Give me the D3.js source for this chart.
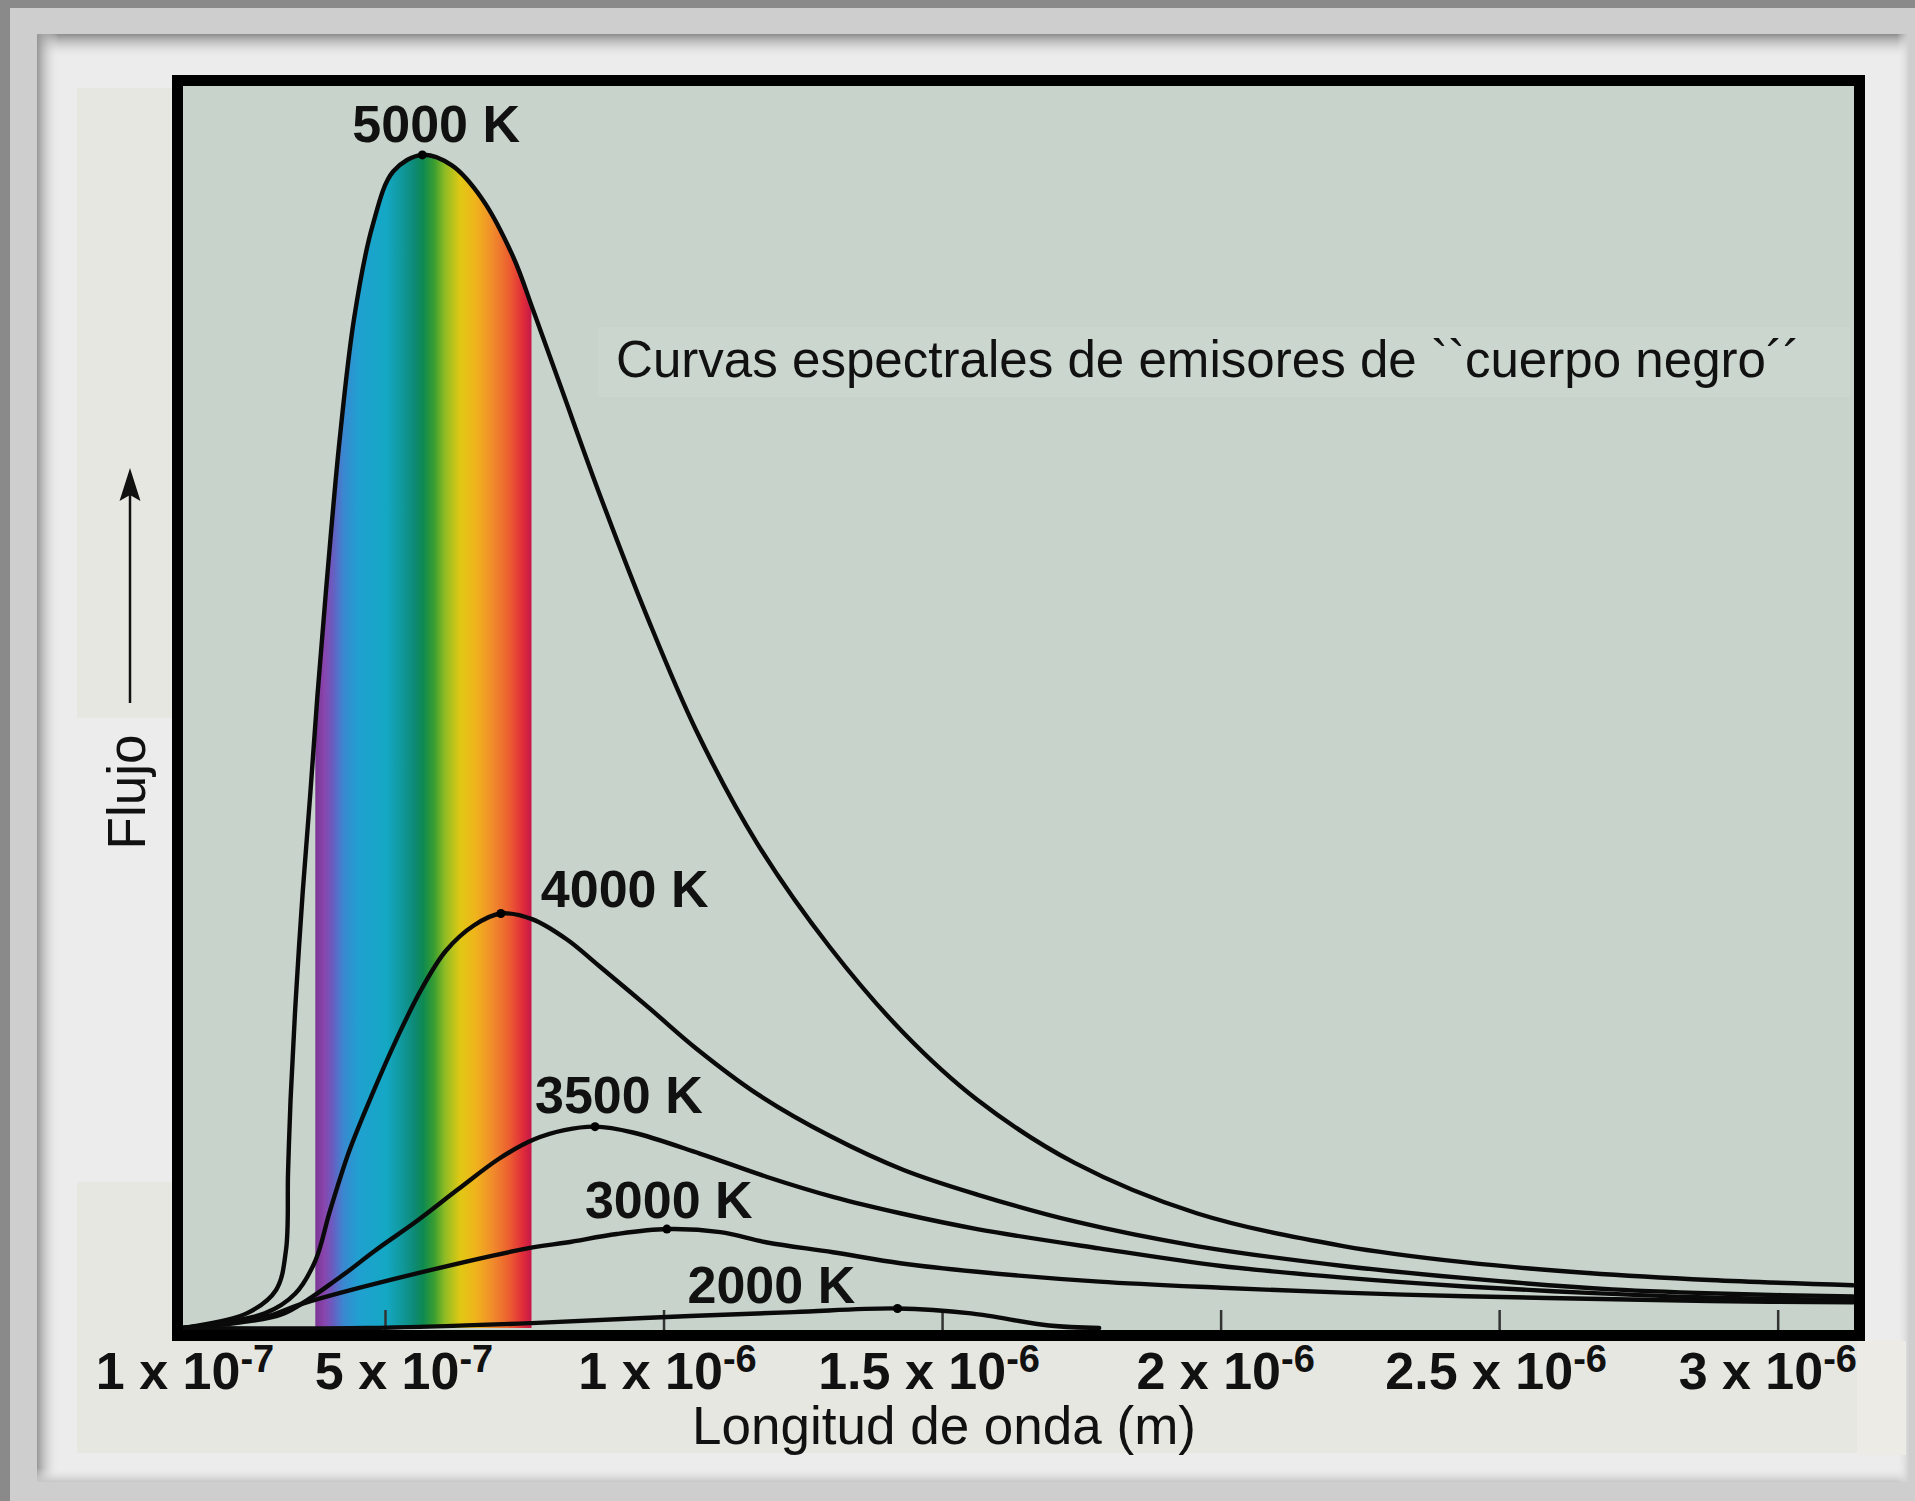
<!DOCTYPE html>
<html><head><meta charset="utf-8">
<script src="https://cdn.jsdelivr.net/npm/d3@7"></script>
<style>html,body{margin:0;padding:0;background:#cecece;overflow:hidden}</style>
</head><body>
<script>
// ---------------- DATA ----------------
const temperatures = [5000, 4000, 3500, 3000, 2000];
const curveLabels = ["5000 K", "4000 K", "3500 K", "3000 K", "2000 K"];

// wavelength in micrometres, flux in relative units (5000 K peak ~ 100)
const wl5000 = [0.100,0.226,0.284,0.304,0.308,0.313,0.323,0.337,0.352,0.366,0.386,0.410,0.439,0.475,0.515,0.567,0.620,0.675,0.730,0.767,0.817,0.883,0.971,1.058,1.168,1.299,1.431,1.563,1.738,1.957,2.220,2.440,2.659,2.878,3.135];
const flux5000 = [0,1.25,3.23,6.68,13.25,19.5,27.85,37.2,45.6,53.9,64.4,75.8,86.3,94.1,98.8,100.2,99.3,96.4,91.5,86.8,80.2,71.5,60.7,51.1,41.4,32.5,25.2,19.5,14.1,9.8,7.0,5.6,4.7,4.1,3.65];

const wl4000 = [0.100,0.262,0.322,0.362,0.391,0.429,0.475,0.521,0.565,0.609,0.660,0.708,0.765,0.826,0.885,0.975,1.058,1.168,1.299,1.431,1.563,1.738,1.957,2.220,2.501,2.703,2.922,3.135];
const flux4000 = [0,1.25,2.92,5.74,10.0,15.1,20.0,24.7,28.9,32.2,34.4,35.4,34.9,33.2,30.9,27.3,23.9,20.0,16.4,13.5,11.4,9.1,7.0,5.3,4.0,3.3,2.9,2.7];

const wl3500 = [0.100,0.221,0.300,0.412,0.480,0.559,0.630,0.706,0.767,0.822,0.877,0.945,1.065,1.186,1.304,1.425,1.563,1.782,2.001,2.220,2.440,2.659,2.878,3.135];
const flux3500 = [0,0.52,1.25,4.38,6.6,9.2,11.8,14.5,16.1,16.9,17.2,16.7,14.9,12.9,11.2,9.8,8.45,6.8,5.3,4.3,3.55,3.0,2.6,2.4];

const wl3000 = [0.100,0.262,0.337,0.559,0.765,0.826,0.916,1.006,1.102,1.186,1.304,1.425,1.563,1.782,2.001,2.220,2.440,2.659,2.878,3.135];
const flux3000 = [0,0.94,2.09,4.69,6.88,7.30,8.03,8.45,8.19,7.30,6.47,5.53,4.80,3.96,3.44,3.02,2.71,2.50,2.30,2.19];

const wl2000 = [0.100,0.463,0.763,1.006,1.234,1.420,1.552,1.692,1.782];
const flux2000 = [0,0,0.42,0.94,1.36,1.67,1.25,0.21,0];

const visibleBand = [0.362, 0.763]; // micrometres

const tickValues = [0.1, 0.5, 1.0, 1.5, 2.0, 2.5, 3.0]; // micrometres
const tickMantissa = ["1", "5", "1", "1.5", "2", "2.5", "3"];
const tickExponent = ["-7", "-7", "-6", "-6", "-6", "-6", "-6"];

const titleText = "Curvas espectrales de emisores de ``cuerpo negro´´";
const xTitleText = "Longitud de onda (m)";
const yTitleText = "Flujo";

// ---------------- LAYOUT ----------------
const W = 1915, H = 1501;
const plot = {left: 183, right: 1854, top: 86, bottom: 1330};
const FONT = "'Liberation Sans', Arial, Helvetica, sans-serif";

const svg = d3.select("body").append("svg").attr("width", W).attr("height", H);
const defs = svg.append("defs");

// page background / frame panel
svg.append("rect").attr("width", W).attr("height", H).attr("fill", "#cecece");
svg.append("rect").attr("width", W).attr("height", 8).attr("fill", "#8a8a8a");
svg.append("rect").attr("width", 10).attr("height", H).attr("fill", "#8a8a8a");
svg.append("rect").attr("x", 37).attr("y", 34).attr("width", 1872).attr("height", 1448).attr("fill", "#ececec");

function grad(id, x1, y1, x2, y2, stops) {
  const g = defs.append("linearGradient").attr("id", id)
    .attr("x1", x1).attr("y1", y1).attr("x2", x2).attr("y2", y2);
  stops.forEach(s => g.append("stop").attr("offset", s[0]).attr("stop-color", s[1]).attr("stop-opacity", s[2] ?? 1));
  return g;
}
grad("shTop", 0, 0, 0, 1, [[0, "#8c8c8c", 1], [1, "#ececec", 0]]);
grad("shLeft", 0, 0, 1, 0, [[0, "#969696", 1], [1, "#ececec", 0]]);
grad("shBottom", 0, 0, 0, 1, [[0, "#ececec", 0], [1, "#c6c6c6", 1]]);
grad("shRight", 0, 0, 1, 0, [[0, "#ececec", 0], [1, "#cfcfcf", 1]]);
svg.append("rect").attr("x", 37).attr("y", 34).attr("width", 1872).attr("height", 24).attr("fill", "url(#shTop)");
svg.append("rect").attr("x", 37).attr("y", 34).attr("width", 22).attr("height", 1448).attr("fill", "url(#shLeft)");
svg.append("rect").attr("x", 37).attr("y", 1468).attr("width", 1872).attr("height", 14).attr("fill", "url(#shBottom)");
svg.append("rect").attr("x", 1897).attr("y", 34).attr("width", 12).attr("height", 1448).attr("fill", "url(#shRight)");

// beige label strips
svg.append("rect").attr("x", 77).attr("y", 88).attr("width", 100).attr("height", 630).attr("fill", "#e7e7e2");
svg.append("rect").attr("x", 77).attr("y", 1182).attr("width", 1785).attr("height", 271).attr("fill", "#e7e7e2");
svg.append("rect").attr("x", 1857).attr("y", 1341).attr("width", 49).attr("height", 114).attr("fill", "#ecebe6");

// scales
const x = d3.scaleLinear().domain([0.1, 0.5, 3.137]).range([plot.left, 385, plot.right]);
const y = d3.scaleLinear().domain([0, 106]).range([1328, 87]);

// plot background
svg.append("rect").attr("x", plot.left).attr("y", plot.top)
  .attr("width", plot.right - plot.left).attr("height", plot.bottom - plot.top).attr("fill", "#c7d3cb");
svg.append("rect").attr("x", 598).attr("y", 327).attr("width", 1252).attr("height", 70).attr("fill", "#cbd6cf");

defs.append("clipPath").attr("id", "plotClip").append("rect")
  .attr("x", plot.left).attr("y", plot.top).attr("width", plot.right - plot.left).attr("height", plot.bottom - plot.top);

// series
const series = [
  {t: 5000, wl: wl5000, f: flux5000},
  {t: 4000, wl: wl4000, f: flux4000},
  {t: 3500, wl: wl3500, f: flux3500},
  {t: 3000, wl: wl3000, f: flux3000},
  {t: 2000, wl: wl2000, f: flux2000}
].map(s => ({t: s.t, pts: s.wl.map((w, i) => [w, s.f[i]])}));

const curveType = d3.curveCatmullRom.alpha(0.5);

// rainbow (visible band) under the hottest curve
const rainbowStops = [
  [0.00, "#7a3594"], [0.04, "#8a45ad"], [0.08, "#6a5cc0"], [0.13, "#3a88d0"],
  [0.20, "#20a0d0"], [0.33, "#14a8c4"], [0.40, "#10989c"], [0.46, "#0d8a74"],
  [0.50, "#0e8a50"], [0.55, "#3a9e30"], [0.60, "#90bc24"], [0.67, "#e0c814"],
  [0.74, "#f0b41c"], [0.82, "#f08c2c"], [0.90, "#ec5c30"], [0.96, "#e02c3a"],
  [1.00, "#c4184a"]
];
const rg = defs.append("linearGradient").attr("id", "rainbow").attr("gradientUnits", "userSpaceOnUse")
  .attr("x1", x(visibleBand[0])).attr("x2", x(visibleBand[1])).attr("y1", 0).attr("y2", 0);
rainbowStops.forEach(s => rg.append("stop").attr("offset", s[0]).attr("stop-color", s[1]));
defs.append("clipPath").attr("id", "bandClip").append("rect")
  .attr("x", x(visibleBand[0])).attr("y", plot.top)
  .attr("width", x(visibleBand[1]) - x(visibleBand[0])).attr("height", plot.bottom - plot.top);

const area = d3.area().x(d => x(d[0])).y0(y(0)).y1(d => y(d[1])).curve(curveType);
svg.append("g").attr("clip-path", "url(#plotClip)")
  .append("path").datum(series[0].pts).attr("d", area)
  .attr("fill", "url(#rainbow)").attr("clip-path", "url(#bandClip)");

// tick marks (inside, upward) using d3 axis
const axisG = svg.append("g").attr("transform", `translate(0,${plot.bottom})`)
  .call(d3.axisBottom(x).tickValues(tickValues.slice(1)).tickSize(-20).tickFormat(""));
axisG.select(".domain").remove();
axisG.selectAll(".tick line").attr("stroke", "#333").attr("stroke-width", 2.5);

// curves
const line = d3.line().x(d => x(d[0])).y(d => y(d[1])).curve(curveType);
const curveG = svg.append("g").attr("clip-path", "url(#plotClip)");
curveG.selectAll("path.curve").data(series).join("path").attr("class", "curve")
  .attr("d", d => line(d.pts)).attr("fill", "none").attr("stroke", "#0a0a0a")
  .attr("stroke-width", 4.4).attr("stroke-linejoin", "round").attr("stroke-linecap", "round");

// peak dots
const peaks = series.map(s => s.pts.reduce((a, b) => (b[1] > a[1] ? b : a)));
curveG.selectAll("circle.peak").data(peaks).join("circle").attr("class", "peak")
  .attr("cx", d => x(d[0])).attr("cy", d => y(d[1])).attr("r", 4.5).attr("fill", "#000");

// temperature labels, offset from each curve's peak
const labelOffset = [[-70, -13], [40, -6.5], [-60, -14], [-82, -11], [-210, -5]];
svg.selectAll("text.tlabel").data(peaks).join("text").attr("class", "tlabel")
  .attr("x", (d, i) => x(d[0]) + labelOffset[i][0])
  .attr("y", (d, i) => y(d[1]) + labelOffset[i][1])
  .attr("font-family", FONT).attr("font-weight", "bold").attr("font-size", 52).attr("fill", "#111")
  .text((d, i) => curveLabels[i]);

// title
svg.append("text").attr("x", 616).attr("y", 377)
  .attr("font-family", FONT).attr("font-size", 52).attr("fill", "#111")
  .attr("textLength", 1184).attr("lengthAdjust", "spacingAndGlyphs")
  .text(titleText);

// frame
svg.append("rect").attr("x", 177.5).attr("y", 80.5).attr("width", 1682).attr("height", 1255)
  .attr("fill", "none").attr("stroke", "#000").attr("stroke-width", 11);

// x tick labels
const tickLabelDx = [2, 19, 4, -13, 5, -3, -6];
const tl = svg.selectAll("text.xtick").data(tickValues).join("text").attr("class", "xtick")
  .attr("x", (d, i) => x(d) + tickLabelDx[i]).attr("y", 1389).attr("text-anchor", "middle")
  .attr("font-family", FONT).attr("font-weight", "bold").attr("font-size", 52).attr("fill", "#111");
tl.append("tspan").text((d, i) => tickMantissa[i] + " x 10");
tl.append("tspan").attr("dy", -17).attr("font-size", 38).text((d, i) => tickExponent[i]);
tl.each(function() {
  const b = this.getBBox();
  const maxRight = 1857;
  if (b.x + b.width > maxRight) {
    d3.select(this).attr("x", +d3.select(this).attr("x") - (b.x + b.width - maxRight));
  }
});

// x axis title
svg.append("text").attr("x", 692).attr("y", 1444)
  .attr("font-family", FONT).attr("font-size", 54).attr("fill", "#111")
  .attr("textLength", 504).attr("lengthAdjust", "spacingAndGlyphs")
  .text(xTitleText);

// y axis title + arrow
svg.append("text").attr("transform", "translate(145,792) rotate(-90)").attr("text-anchor", "middle")
  .attr("font-family", FONT).attr("font-size", 53).attr("fill", "#111").text(yTitleText);
svg.append("line").attr("x1", 130).attr("x2", 130).attr("y1", 703).attr("y2", 490)
  .attr("stroke", "#111").attr("stroke-width", 2.5);
svg.append("path").attr("d", "M130,468 L140.5,501 L130,495 L119.5,501 Z").attr("fill", "#111");
</script>
</body></html>
